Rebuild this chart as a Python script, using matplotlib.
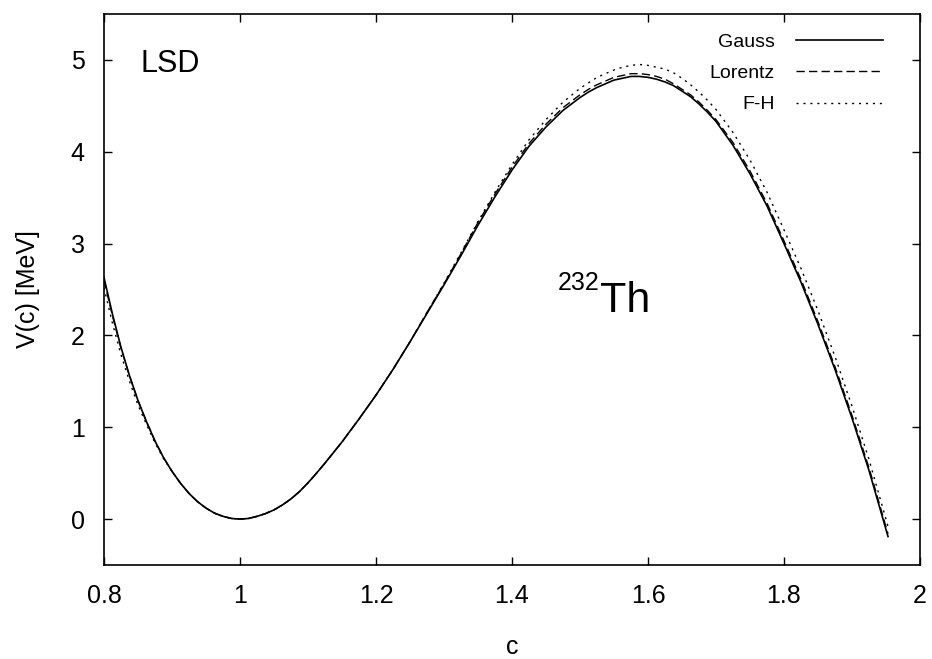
import matplotlib
matplotlib.use('Agg')
import matplotlib.pyplot as plt
from matplotlib.ticker import FormatStrFormatter

plt.rcParams['font.family'] = ['Liberation Sans', 'DejaVu Sans']

# deformation parameter c (denser near the minimum and the barrier top)
c = [0.8, 0.8125, 0.825, 0.8375, 0.85, 0.8625, 0.875, 0.8875, 0.9, 0.9125,
     0.925, 0.9375, 0.95, 0.9625, 0.975, 0.9875, 1.0, 1.0125, 1.025, 1.0375,
     1.05, 1.0625, 1.075, 1.0875, 1.1, 1.1125, 1.125, 1.1375,
     1.15, 1.175, 1.2, 1.225, 1.25, 1.275, 1.3, 1.325, 1.35, 1.375,
     1.4, 1.425, 1.45,
     1.4625, 1.475, 1.4875, 1.5, 1.5125, 1.525, 1.5375, 1.55, 1.5625, 1.575,
     1.5875, 1.6, 1.6125, 1.625, 1.6375, 1.65, 1.6625, 1.675, 1.6875, 1.7,
     1.725, 1.75, 1.775, 1.8, 1.825, 1.85, 1.875, 1.9, 1.925, 1.953]

# V(c) [MeV]
v_gauss = [2.63, 2.23, 1.87, 1.56, 1.29, 1.06, 0.85, 0.67, 0.52, 0.39,
           0.28, 0.19, 0.12, 0.065, 0.03, 0.007, 0.0, 0.007, 0.03, 0.06,
           0.10, 0.155, 0.22, 0.30, 0.395, 0.50, 0.61, 0.725,
           0.84, 1.09, 1.35, 1.63, 1.93, 2.24, 2.55, 2.87, 3.20, 3.51,
           3.80, 4.06, 4.27,
           4.36, 4.45, 4.52, 4.59, 4.65, 4.70, 4.74, 4.78, 4.80, 4.82,
           4.82, 4.81, 4.79, 4.76, 4.72, 4.66, 4.60, 4.52, 4.43, 4.33,
           4.07, 3.76, 3.41, 3.00, 2.58, 2.12, 1.63, 1.10, 0.53, -0.19]
v_lorentz = [2.60, 2.21, 1.86, 1.56, 1.29, 1.06, 0.85, 0.67, 0.52, 0.39,
             0.28, 0.19, 0.12, 0.065, 0.03, 0.007, 0.0, 0.007, 0.03, 0.06,
             0.10, 0.155, 0.22, 0.30, 0.395, 0.50, 0.61, 0.725,
             0.84, 1.09, 1.35, 1.63, 1.93, 2.25, 2.56, 2.89, 3.23, 3.54,
             3.83, 4.09, 4.30,
             4.39, 4.48, 4.55, 4.62, 4.68, 4.73, 4.77, 4.81, 4.83, 4.85,
             4.85, 4.84, 4.82, 4.79, 4.74, 4.68, 4.62, 4.54, 4.45, 4.35,
             4.10, 3.79, 3.44, 3.03, 2.61, 2.15, 1.66, 1.13, 0.56, -0.16]
v_fh = [2.52, 2.13, 1.79, 1.50, 1.24, 1.03, 0.83, 0.66, 0.52, 0.39,
        0.28, 0.19, 0.12, 0.065, 0.03, 0.007, 0.0, 0.007, 0.03, 0.06,
        0.10, 0.155, 0.22, 0.30, 0.395, 0.50, 0.61, 0.725,
        0.84, 1.09, 1.35, 1.63, 1.93, 2.25, 2.57, 2.90, 3.24, 3.56,
        3.86, 4.13, 4.35,
        4.445, 4.54, 4.615, 4.69, 4.75, 4.81, 4.85, 4.89, 4.92, 4.94,
        4.95, 4.94, 4.92, 4.90, 4.86, 4.80, 4.73, 4.65, 4.56, 4.46,
        4.21, 3.91, 3.56, 3.15, 2.73, 2.27, 1.77, 1.23, 0.65, -0.08]

fig = plt.figure(figsize=(9.32, 6.59), dpi=100)
ax = fig.add_axes([0.1116, 0.1426, 0.8755, 0.8362])

ax.plot(c, v_gauss, color='black', lw=1.2, label='Gauss')
ax.plot(c, v_lorentz, color='black', lw=1.0, dashes=(6, 3), label='Lorentz')
ax.plot(c, v_fh, color='black', lw=1.0, dashes=(1.5, 3.5), label='F-H')

ax.set_xlim(0.8, 2.0)
ax.set_ylim(-0.5, 5.5)
ax.set_xticks([0.8, 1.0, 1.2, 1.4, 1.6, 1.8, 2.0])
ax.set_yticks([0, 1, 2, 3, 4, 5])
ax.xaxis.set_major_formatter(FormatStrFormatter('%g'))
ax.yaxis.set_major_formatter(FormatStrFormatter('%g'))
ax.tick_params(direction='in', length=6, width=1, labelsize=18,
               top=True, right=True, pad=14)
for s in ax.spines.values():
    s.set_linewidth(1.2)

ax.set_xlabel('c', fontsize=18, labelpad=19)
ax.set_ylabel('V(c) [MeV]', fontsize=18, labelpad=22)

ax.text(0.853, 4.87, 'LSD', fontsize=22)
ax.text(1.4676, 2.49, '232', fontsize=18)
ax.text(1.529, 2.255, 'Th', fontsize=31)

ax.legend(loc='upper right', bbox_to_anchor=(0.955, 0.965), frameon=False,
          markerfirst=False, fontsize=14, handlelength=4.5,
          handletextpad=1.08, labelspacing=0.7, borderpad=0, borderaxespad=0)

fig.savefig('out.png', dpi=100)
